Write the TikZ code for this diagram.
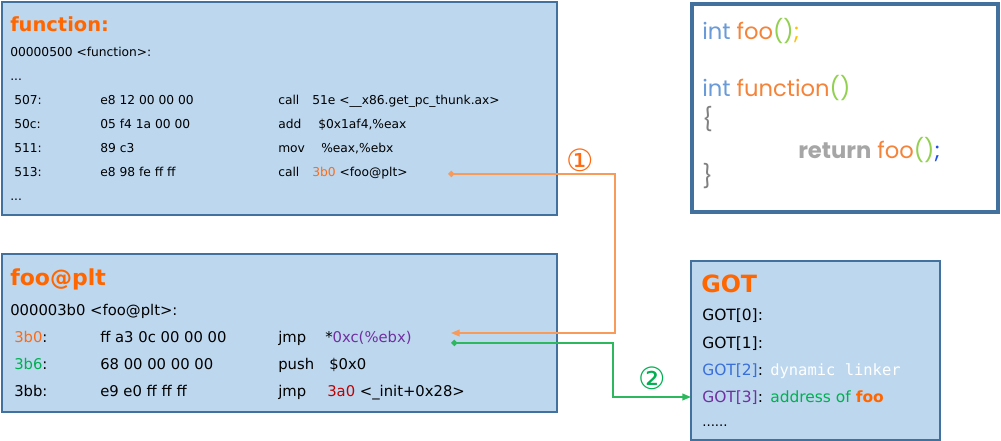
\documentclass[tikz,border=0pt]{standalone}
\usepackage{fontspec}
\setmainfont{DejaVu Sans}
\setmonofont{DejaVu Sans Mono}
\newfontfamily\codefont{Poppins}
\usetikzlibrary{arrows.meta,fit}
\definecolor{boxfill}{HTML}{BDD7EE}
\definecolor{boxline}{HTML}{41719C}
\definecolor{ttl}{HTML}{FF6600}
\definecolor{org}{HTML}{FF6A13}
\definecolor{grn}{HTML}{00B050}
\definecolor{prp}{HTML}{7030A0}
\definecolor{rd}{HTML}{C00000}
\definecolor{blu}{HTML}{3A6FD8}
\definecolor{oline}{HTML}{F79A5A}
\definecolor{gline}{HTML}{2DB85E}
\definecolor{cint}{HTML}{6A9BD8}
\definecolor{cfoo}{HTML}{F5843A}
\definecolor{cpar}{HTML}{92D050}
\definecolor{csemi}{HTML}{FFC000}
\definecolor{csemib}{HTML}{1F4FE0}
\definecolor{cret}{HTML}{A6A6A6}
\definecolor{cbr}{HTML}{808080}
\tikzset{
  x=0.75pt, y=-0.75pt,
  box/.style={draw=boxline, fill=boxfill, line width=0.9pt, inner sep=0pt},
  codebox/.style={draw=boxline, fill=white, line width=2.3pt, inner sep=0pt},
  txt/.style={inner sep=0pt, anchor=base west},
  fa/.style={txt, font=\fontsize{9.2}{10}\selectfont},
  fb/.style={txt, font=\fontsize{11.1}{12}\selectfont},
  fg/.style={txt, font=\fontsize{11.6}{13}\selectfont},
  fc/.style={txt, font=\codefont\fontsize{17}{19}\selectfont},
  ttlA/.style={txt, font=\bfseries\fontsize{14.6}{16}\selectfont, text=ttl},
  ttlB/.style={txt, font=\bfseries\fontsize{16.5}{18}\selectfont, text=ttl},
  ttlC/.style={txt, font=\bfseries\fontsize{17.8}{20}\selectfont, text=ttl},
  orangeconn/.style={draw=oline, line width=1.3pt, {Diamond[length=5pt,width=5pt]}-{Triangle[length=6.5pt,width=5pt]}},
  greenconn/.style={draw=gline, line width=1.3pt, {Diamond[length=5pt,width=5pt]}-{Triangle[length=6.5pt,width=5pt]}},
  num/.style={inner sep=0pt, font=\fontsize{23}{24}\selectfont}
}
\begin{document}
\begin{tikzpicture}
\useasboundingbox (0,0) rectangle (1001,441);
% boxes
\node[box, fit={(2,2) (557,215)}] (funcbox) {};
\node[box, fit={(2,254) (557,412)}] (pltbox) {};
\node[codebox, fit={(692,4) (998,212)}] (codebox) {};
\node[box, fit={(691,261) (940,440)}] (gotbox) {};

% function box
\node[ttlA] (ft) at (10,31.5) {function:};
\node[fa] (f0) at (10,56.5) {00000500 <function>:};
\node[fa] (f1) at (10,80.5) {...};
\node[fa] (a1) at (14,104.5) {507:};
\node[fa] (b1) at (100,104.5) {e8 12 00 00 00};
\node[fa] (m1) at (278,104.5) {call};
\node[fa] (o1) at (312,104.5) {51e <\_\_x86.get\_pc\_thunk.ax>};
\node[fa] (a2) at (14,128.5) {50c:};
\node[fa] (b2) at (100,128.5) {05 f4 1a 00 00};
\node[fa] (m2) at (278,128.5) {add};
\node[fa] (o2) at (318,128.5) {\$0x1af4,\%eax};
\node[fa] (a3) at (14,152.5) {511:};
\node[fa] (b3) at (100,152.5) {89 c3};
\node[fa] (m3) at (278,152.5) {mov};
\node[fa] (o3) at (321,152.5) {\%eax,\%ebx};
\node[fa] (a4) at (14,176.5) {513:};
\node[fa] (b4) at (100,176.5) {e8 98 fe ff ff};
\node[fa] (m4) at (278,176.5) {call};
\node[fa] (o4) at (312,176.5) {\textcolor{org}{3b0} <foo@plt>};
\node[fa] (f2) at (10,200.5) {...};

% foo@plt box
\node[ttlB] (pt) at (10,286) {foo@plt};
\node[fb] (p0) at (10,315.5) {000003b0 <foo@plt>:};
\node[fb] (pa1) at (14,342.5) {\textcolor{org}{3b0}:};
\node[fb] (pb1) at (100,342.5) {ff a3 0c 00 00 00};
\node[fb] (pm1) at (278,342.5) {jmp};
\node[fb] (po1) at (325,342.5) {*\textcolor{prp}{0xc(\%ebx)}};
\node[fb] (pa2) at (14,370) {\textcolor{grn}{3b6}:};
\node[fb] (pb2) at (100,370) {68 00 00 00 00};
\node[fb] (pm2) at (278,370) {push};
\node[fb] (po2) at (329,370) {\$0x0};
\node[fb] (pa3) at (14,397) {3bb:};
\node[fb] (pb3) at (100,397) {e9 e0 ff ff ff};
\node[fb] (pm3) at (278,397) {jmp};
\node[fb] (po3) at (327,397) {\textcolor{rd}{3a0} <\_init+0x28>};

% code box
\node[fc] (c1) at (702,40) {\textcolor{cint}{int} \textcolor{cfoo}{foo}\textcolor{cpar}{()}\textcolor{csemi}{;}};
\node[fc] (c2) at (702,97) {\textcolor{cint}{int} \textcolor{cfoo}{function}\textcolor{cpar}{()}};
\node[fc] (c3) at (702,128) {\textcolor{cbr}{\{}};
\node[fc] (c4) at (798,159) {\textcolor{cret}{\bfseries return} \textcolor{cfoo}{foo}\textcolor{cpar}{()}\textcolor{csemib}{;}};
\node[fc] (c5) at (702,185) {\textcolor{cbr}{\}}};

% GOT box
\node[ttlC] (gt) at (701,292.3) {GOT};
\node[fg] (g0) at (702,320.7) {GOT[0]:};
\node[fg] (g1) at (702,349) {GOT[1]:};
\node[fg] (g2) at (702,375.7) {\textcolor{blu}{GOT[2]}:};
\node[fg] (g2t) at (770,375.7) {\ttfamily\textcolor{white}{dynamic linker}};
\node[fg] (g3) at (702,402.3) {\textcolor{prp}{GOT[3]}:};
\node[fg] (g3t) at (770,402.3) {\textcolor{grn}{address of} \textcolor{ttl}{\bfseries foo}};
\node[fg] (g4) at (702,427) {\fontsize{10}{11}\selectfont ......};

% connectors
\coordinate (s1) at (448,174);
\coordinate (t1) at (451,333);
\coordinate (s2) at (451,343);
\coordinate (t2) at (691,397);
\draw[orangeconn] (s1) -| (615,333) -- (t1);
\draw[greenconn] (s2) -| (613,397) -- (t2);
\node[num, text=org] (n1) at (580,160) {①};
\node[num, text=grn] (n2) at (652,378) {②};
\end{tikzpicture}
\end{document}
